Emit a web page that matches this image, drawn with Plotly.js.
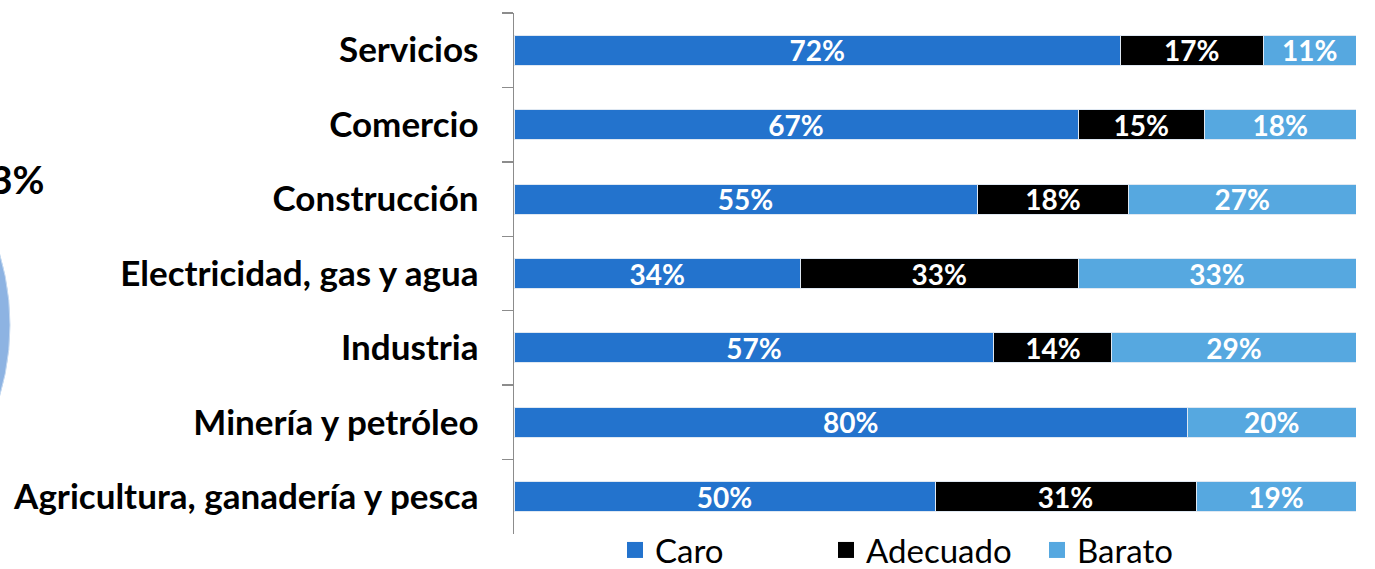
<!DOCTYPE html>
<html>
<head>
<meta charset="utf-8">
<script src="https://cdn.plot.ly/plotly-3.0.1.min.js"></script>
<style>html,body{margin:0;padding:0;background:#fff;}#chart{width:1375px;height:569px;}</style>
</head>
<body>
<div id="chart"></div>
<script>
const sectors = ["Servicios", "Comercio", "Construcción", "Electricidad, gas y agua", "Industria", "Minería y petróleo", "Agricultura, ganadería y pesca"];
const caro = [72, 67, 55, 34, 57, 80, 50];
const adecuado = [17, 15, 18, 33, 14, 0, 31];
const barato = [11, 18, 27, 33, 29, 20, 19];
const seriesNames = ["Caro", "Adecuado", "Barato"];
const seriesColors = ["#2373CD", "#000000", "#56A8E0"];
const sideLabel = "3%";

const FONT = "Lato, 'Open Sans', sans-serif";
const vals = [caro, adecuado, barato];

const traces = vals.map((v, i) => ({
  type: "bar",
  orientation: "h",
  y: sectors,
  x: v,
  name: seriesNames[i],
  showlegend: false,
  marker: { color: seriesColors[i], line: { color: "#dfe8f2", width: 1 } },
  text: v.map(d => d ? d + "%" : ""),
  textposition: "inside",
  insidetextanchor: "middle",
  textangle: 0,
  constraintext: "none",
  insidetextfont: { family: FONT, size: 28, color: "#ffffff", weight: 700 },
  hoverinfo: "skip"
}));

// legend proxies (larger square symbols)
seriesNames.forEach((n, i) => {
  traces.push({
    type: "scatter",
    mode: "markers",
    x: [null], y: [null],
    name: n,
    marker: { symbol: "square", size: 22, color: seriesColors[i] },
    showlegend: true,
    hoverinfo: "skip"
  });
});

const L = 514, R = 19, T = 13, B = 35, W = 1375, H = 569;
const pw = W - L - R, ph = H - T - B;
const px = x => (x - L) / pw;
const py = y => (H - B - y) / ph;

const layout = {
  width: W, height: H,
  margin: { l: L, r: R, t: T, b: B, autoexpand: false },
  paper_bgcolor: "#ffffff",
  plot_bgcolor: "#ffffff",
  barmode: "stack",
  bargap: 0.597,
  font: { family: FONT, color: "#000000" },
  xaxis: { range: [0, 100], visible: false, showgrid: false, zeroline: false, fixedrange: true },
  yaxis: {
    type: "category",
    autorange: "reversed",
    showline: true, linecolor: "#8c8c8c", linewidth: 1.5,
    ticks: "outside", tickson: "boundaries", ticklen: 11, tickcolor: "#8c8c8c", tickwidth: 1.5,
    ticklabelstandoff: 27,
    showgrid: false, zeroline: false,
    tickfont: { family: FONT, size: 35, color: "#000000", weight: 700 }
  },
  legend: {
    orientation: "h",
    traceorder: "normal",
    x: px(615), xanchor: "left",
    y: py(550), yanchor: "middle",
    font: { family: FONT, size: 33, color: "#000000" },
    entrywidth: 166,
    bgcolor: "rgba(0,0,0,0)",
    itemclick: false, itemdoubleclick: false
  },
  shapes: [{
    type: "circle", xref: "paper", yref: "paper",
    x0: px(-490), x1: px(10), y0: py(575), y1: py(75),
    fillcolor: "#8DB3E2", line: { color: "#c5d9f0", width: 1 }, layer: "below"
  }],
  annotations: [{
    text: sideLabel, xref: "paper", yref: "paper",
    x: px(47), y: py(179), xanchor: "right", yanchor: "middle",
    showarrow: false,
    font: { family: FONT, size: 39, color: "#000000", weight: 700 }
  }]
};

Plotly.newPlot("chart", traces, layout, { displayModeBar: false, staticPlot: true });
</script>
</body>
</html>
